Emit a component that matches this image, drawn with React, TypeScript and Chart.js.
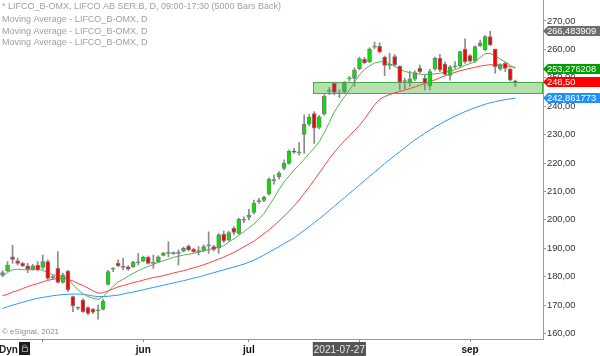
import React, { useEffect, useRef } from 'react';
import { Chart, registerables } from 'chart.js';

Chart.register(...registerables);

// ---- data ----
const dates = [
  '2021-04-21','2021-04-22','2021-04-23','2021-04-26','2021-04-27','2021-04-28','2021-04-29','2021-04-30',
  '2021-05-03','2021-05-04','2021-05-05','2021-05-06','2021-05-07','2021-05-10','2021-05-11','2021-05-12','2021-05-14',
  '2021-05-17','2021-05-18','2021-05-19','2021-05-20','2021-05-21','2021-05-24','2021-05-25','2021-05-26','2021-05-27','2021-05-28','2021-05-31',
  '2021-06-01','2021-06-02','2021-06-03','2021-06-04','2021-06-07','2021-06-08','2021-06-09','2021-06-10','2021-06-11',
  '2021-06-14','2021-06-15','2021-06-16','2021-06-17','2021-06-18','2021-06-21','2021-06-22','2021-06-23','2021-06-24','2021-06-28','2021-06-29','2021-06-30',
  '2021-07-01','2021-07-02','2021-07-05','2021-07-06','2021-07-07','2021-07-08','2021-07-09','2021-07-12','2021-07-13','2021-07-14','2021-07-15','2021-07-16',
  '2021-07-19','2021-07-20','2021-07-21','2021-07-22','2021-07-23','2021-07-26','2021-07-27','2021-07-28','2021-07-29','2021-07-30',
  '2021-08-02','2021-08-03','2021-08-04','2021-08-05','2021-08-06','2021-08-09','2021-08-10','2021-08-11','2021-08-12','2021-08-13',
  '2021-08-16','2021-08-17','2021-08-18','2021-08-19','2021-08-20','2021-08-23','2021-08-24','2021-08-25','2021-08-26','2021-08-27','2021-08-30','2021-08-31',
  '2021-09-01','2021-09-02','2021-09-03','2021-09-06','2021-09-07','2021-09-08','2021-09-09','2021-09-10','2021-09-13','2021-09-14',
  '2021-09-15','2021-09-16','2021-09-17','2021-09-20','2021-09-21',
];

const opens = [
  180.5,182.1,187.0,185.6,184.7,183.8,182.6,184.1,183.3,185.3,
  179.6,182.9,178.0,182.0,173.0,168.9,171.8,169.1,168.5,168.0,
  168.5,177.3,182.6,184.7,183.3,183.5,183.5,184.9,185.5,186.8,
  184.7,185.3,187.5,188.2,188.1,188.2,189.0,190.8,189.7,188.8,
  189.2,190.9,190.6,190.0,194.9,192.9,197.0,195.2,199.9,200.9,
  202.6,206.4,206.8,209.1,213.8,215.2,218.1,219.9,224.2,223.6,
  230.1,233.7,237.4,232.5,237.3,245.2,248.1,244.4,245.0,249.6,
  249.8,253.2,256.5,255.7,260.8,261.1,257.3,254.4,257.5,254.0,
  248.7,248.2,249.5,253.3,249.8,247.2,253.1,256.9,254.8,250.8,
  253.9,254.3,260.1,257.8,255.9,261.3,259.8,264.5,260.1,253.1,
  255.1,253.1,248.6,
];
const highs = [
  182.1,185.3,191.1,186.5,185.0,184.7,184.3,185.3,187.6,185.9,
  180.4,188.8,181.2,182.3,173.2,169.4,172.2,169.5,168.9,170.0,
  172.0,182.2,183.2,185.9,186.5,183.9,185.4,188.2,187.2,187.3,
  187.6,187.4,188.6,192.3,188.7,189.4,190.4,191.2,190.0,190.6,
  191.2,195.8,191.0,195.2,196.1,196.0,197.6,200.6,201.1,203.7,
  207.0,207.6,208.4,214.8,215.8,217.0,221.1,224.6,225.2,227.2,
  236.9,237.1,238.1,236.8,244.1,246.6,248.5,245.8,248.8,250.5,
  253.5,257.3,257.2,260.6,262.6,262.3,257.7,258.7,258.2,254.3,
  249.9,252.3,252.5,254.5,251.0,253.0,257.3,258.3,255.5,254.3,
  255.7,259.4,263.7,258.3,261.3,263.3,264.9,266.4,260.1,255.0,
  255.5,253.5,249.2,
];
const lows = [
  180.0,181.8,184.7,184.1,183.5,181.4,182.3,182.0,182.6,179.0,
  179.0,177.7,177.7,174.7,167.7,168.4,167.4,166.5,167.0,165.0,
  168.3,177.0,181.8,183.5,182.4,182.3,183.2,184.1,185.3,184.4,
  182.9,185.0,187.3,187.0,187.8,184.1,188.7,189.0,188.5,187.6,
  188.8,188.2,189.0,188.2,192.0,192.5,194.7,194.9,199.0,200.0,
  202.1,205.8,206.4,208.7,212.6,214.3,217.6,219.5,223.4,222.8,
  223.4,233.0,226.9,232.0,236.8,244.1,244.0,243.0,244.5,248.8,
  247.0,252.8,254.9,255.4,260.3,258.7,250.8,253.0,254.0,245.8,
  246.0,247.0,249.0,251.6,245.7,245.7,252.6,252.2,250.8,249.2,
  253.3,253.6,255.1,255.5,255.5,261.0,259.5,261.3,251.6,252.6,
  252.2,248.8,246.9,
];
const closes = [
  181.4,184.1,186.1,184.7,183.8,182.6,183.8,182.4,185.3,179.4,
  180.0,178.0,180.6,175.3,169.7,168.9,167.7,167.1,167.5,168.1,
  171.4,181.8,182.7,183.9,183.3,182.6,185.1,185.0,186.8,184.7,
  184.7,187.0,188.2,188.2,188.2,188.2,190.0,189.4,188.8,188.9,
  190.6,191.0,189.6,194.7,192.6,195.5,195.6,200.2,200.0,201.7,
  205.8,206.5,207.9,214.3,213.9,216.4,219.9,224.2,223.8,223.7,
  233.6,236.2,232.3,236.3,243.5,245.3,244.9,244.5,248.3,249.7,
  252.8,256.8,255.2,260.1,261.0,259.1,254.4,254.5,254.5,248.5,
  248.8,249.6,251.8,252.2,248.1,252.2,256.9,252.8,251.2,253.9,
  254.0,259.2,255.7,255.9,261.0,262.3,264.5,261.6,253.9,254.7,
  253.3,249.2,248.5,
];

const maFast = [
  180.1,181.5,182.4,182.6,182.5,182.4,182.5,182.6,182.2,181.5,
  180.7,180.3,180.0,179.3,177.3,175.4,174.0,173.0,172.4,172.0,
  172.9,174.8,176.6,178.1,179.1,180.2,181.2,182.1,182.9,183.6,
  184.3,185.0,185.6,186.2,186.8,187.2,187.6,187.9,188.2,188.6,
  189.1,189.5,189.9,190.4,190.9,192.2,193.3,194.6,195.8,197.2,
  198.5,200.3,202.2,205.0,207.7,210.7,213.3,215.5,217.6,219.3,
  221.3,223.4,225.3,227.5,230.7,234.3,238.0,240.8,243.3,245.6,
  248.5,251.0,253.0,254.2,255.2,255.6,255.7,255.0,254.0,253.0,
  252.3,251.8,251.5,251.3,251.2,251.2,251.4,251.6,252.0,252.4,
  252.8,253.6,254.4,255.0,255.7,257.1,258.5,258.6,257.7,256.6,
  255.6,254.4,253.3,
];
const maMid = [
  173.3,173.8,174.6,175.1,175.8,176.5,177.1,177.6,178.2,178.7,
  179.1,179.3,179.4,179.1,178.5,177.6,176.9,176.0,175.0,174.2,
  174.3,175.0,175.7,176.4,176.9,177.4,177.9,178.3,178.8,179.3,
  179.7,180.0,180.4,180.8,181.3,181.7,182.1,182.6,183.1,183.6,
  184.2,184.8,185.5,186.2,186.9,187.7,188.5,189.5,190.5,191.5,
  192.5,193.8,195.1,196.5,198.0,199.6,201.3,203.0,205.0,207.0,
  209.3,211.6,214.0,216.5,219.0,221.5,223.8,225.9,227.8,229.6,
  231.4,233.3,235.5,238.0,240.5,242.4,243.4,244.1,244.7,245.2,
  245.7,246.2,246.8,247.4,248.0,248.6,249.3,250.0,250.7,251.3,
  251.9,252.5,252.9,253.3,253.7,254.1,254.4,254.6,254.6,254.5,
  254.3,254.0,253.6,
];
const maSlow = [
  168.8,169.4,170.0,170.5,171.0,171.5,172.0,172.4,172.7,173.0,
  173.3,173.5,173.7,173.8,173.9,173.9,173.8,173.5,173.2,173.0,
  173.0,173.1,173.3,173.5,173.9,174.3,174.6,175.0,175.4,175.8,
  176.2,176.6,177.0,177.4,177.8,178.2,178.6,179.0,179.5,179.9,
  180.4,180.9,181.4,181.9,182.4,182.9,183.4,183.9,184.4,185.1,
  185.8,186.7,187.6,188.6,189.6,190.6,191.6,192.6,193.7,195.0,
  196.3,197.6,199.0,200.4,201.8,203.3,204.8,206.3,207.8,209.3,
  210.8,212.3,213.8,215.3,216.8,218.3,219.8,221.2,222.6,224.0,
  225.4,226.8,228.1,229.3,230.5,231.6,232.7,233.7,234.7,235.6,
  236.5,237.3,238.1,238.8,239.5,240.1,240.7,241.2,241.6,242.0,
  242.3,242.6,242.86,
];

const yTicks = [160, 170, 180, 190, 200, 210, 220, 230, 240, 250, 260, 270];
const monthTicks = ['2021-05-03', '2021-06-01', '2021-07-01', '2021-08-02', '2021-09-01'];
const tickLabels: Record<string, string> = {
  '2021-06-01': 'jun',
  '2021-07-01': 'jul',
  '2021-07-27': '2021-07-27',
  '2021-09-01': 'sep',
};
const cursorDate = '2021-07-27';

const bandFrom = 61.8;
const bandLow = 244.42;
const bandHigh = 248.42;

const tagValues = [266.483909, 253.276208, 248.5, 242.861773];
const tagTexts = ['266,483909', '253,276208', '248,50', '242,861773'];
const tagColors = ['#6e6e6e', '#00a000', '#ff0000', '#1e90ff'];

const legendLines = [
  '* LIFCO_B-OMX, LIFCO AB SER.B, D, 09:00-17:30 (5000 Bars Back)',
  'Moving Average - LIFCO_B-OMX, D',
  'Moving Average - LIFCO_B-OMX, D',
  'Moving Average - LIFCO_B-OMX, D',
];
const copyright = '\u00A9 eSignal, 2021';

const FONT = "'Liberation Sans', Arial, sans-serif";

export default function App() {
  const canvasRef = useRef<HTMLCanvasElement | null>(null);

  useEffect(() => {
    const canvas = canvasRef.current;
    if (!canvas) return;

    const wicks = highs.map((h, i) => [lows[i], h]);
    const bodies = opens.map((o, i) => [o, closes[i]]);
    const bodyColors = opens.map((o, i) =>
      closes[i] > o ? '#00e400' : closes[i] < o ? '#ff0000' : '#8a8a8a'
    );

    const bandPlugin = {
      id: 'band',
      beforeDatasetsDraw(chart: any) {
        const { ctx, chartArea, scales } = chart;
        const x0 = scales.x.getPixelForValue(bandFrom);
        const y0 = scales.y.getPixelForValue(bandHigh);
        const y1 = scales.y.getPixelForValue(bandLow);
        ctx.save();
        ctx.fillStyle = 'rgba(118,198,108,0.55)';
        ctx.fillRect(x0, y0, chartArea.right - x0, y1 - y0);
        ctx.strokeStyle = '#45ad45';
        ctx.lineWidth = 1;
        ctx.strokeRect(Math.round(x0) + 0.5, Math.round(y0) + 0.5, chartArea.right - Math.round(x0) - 1, Math.round(y1 - y0));
        ctx.restore();
      },
    };

    const overlayPlugin = {
      id: 'overlay',
      afterDraw(chart: any) {
        const { ctx, chartArea, scales, width } = chart;
        ctx.save();
        // legend text
        ctx.font = `9px ${FONT}`;
        ctx.fillStyle = '#a0a0a0';
        ctx.textAlign = 'left';
        ctx.textBaseline = 'middle';
        const rows = [7, 19.5, 31.5, 43];
        legendLines.forEach((t, i) => ctx.fillText(t, 2, rows[i]));
        // copyright
        ctx.font = `8px ${FONT}`;
        ctx.fillStyle = '#8a8a8a';
        ctx.fillText(copyright, 2, chartArea.bottom - 7);
        // Dyn + lock
        ctx.font = `bold 10px ${FONT}`;
        ctx.fillStyle = '#222';
        ctx.fillText('Dyn', -1, 350);
        ctx.fillStyle = '#1e1e1e';
        ctx.fillRect(19, 342, 11, 13);
        ctx.strokeStyle = '#9a9a9a';
        ctx.lineWidth = 1;
        ctx.beginPath();
        ctx.arc(24.5, 347, 2, Math.PI, 0);
        ctx.stroke();
        ctx.strokeRect(22.5, 347.5, 5, 4);
        // price tags
        ctx.font = `9.3px ${FONT}`;
        const r = chartArea.right;
        tagValues.forEach((v, i) => {
          const y = Math.round(scales.y.getPixelForValue(v));
          ctx.fillStyle = tagColors[i];
          ctx.beginPath();
          ctx.moveTo(r, y);
          ctx.lineTo(r + 5, y - 5);
          ctx.lineTo(width, y - 5);
          ctx.lineTo(width, y + 5);
          ctx.lineTo(r + 5, y + 5);
          ctx.closePath();
          ctx.fill();
          ctx.fillStyle = '#ffffff';
          ctx.fillText(tagTexts[i], r + 4, y + 0.5);
        });
        ctx.restore();
      },
    };

    const chart = new Chart(canvas, {
      type: 'bar',
      data: {
        labels: dates,
        datasets: [
          {
            type: 'bar',
            label: 'body',
            data: bodies as any,
            backgroundColor: bodyColors,
            borderColor: '#7c7c7c',
            borderWidth: 1,
            borderSkipped: false,
            barThickness: 4,
            minBarLength: 1,
            grouped: false,
            order: 0,
          } as any,
          {
            type: 'bar',
            label: 'wick',
            data: wicks as any,
            backgroundColor: '#8a8a8a',
            borderWidth: 0,
            barThickness: 1,
            grouped: false,
            order: 1,
          } as any,
          {
            type: 'line',
            label: 'MA fast',
            data: maFast,
            borderColor: '#4cb84c',
            borderWidth: 1,
            pointRadius: 0,
            tension: 0,
            order: 2,
          } as any,
          {
            type: 'line',
            label: 'MA mid',
            data: maMid,
            borderColor: '#ff4040',
            borderWidth: 1,
            pointRadius: 0,
            tension: 0,
            order: 3,
          } as any,
          {
            type: 'line',
            label: 'MA slow',
            data: maSlow,
            borderColor: '#2d96ff',
            borderWidth: 1,
            pointRadius: 0,
            tension: 0,
            order: 4,
          } as any,
        ],
      },
      options: {
        responsive: false,
        animation: false,
        devicePixelRatio: 1,
        events: [],
        layout: { padding: 0 },
        plugins: {
          legend: { display: false },
          tooltip: { enabled: false },
        },
        scales: {
          x: {
            type: 'category',
            offset: true,
            grid: {
              display: true,
              drawOnChartArea: false,
              drawTicks: true,
              tickLength: 3,
              offset: false,
              color: (c: any) => (monthTicks.includes(dates[c.index]) ? '#8a8a8a' : 'rgba(0,0,0,0)'),
            },
            border: { display: true, color: '#9a9a9a', width: 1 },
            ticks: {
              autoSkip: false,
              maxRotation: 0,
              minRotation: 0,
              padding: 2,
              callback: (_v: any, i: number) => tickLabels[dates[i]] ?? '',
              color: (c: any) => (dates[c.index] === cursorDate ? '#e8e8e8' : '#111111'),
              font: (c: any) =>
                dates[c.index] === cursorDate
                  ? { family: FONT, size: 10, weight: 'normal' }
                  : { family: FONT, size: 10, weight: 'bold' },
              showLabelBackdrop: (c: any) => dates[c.index] === cursorDate,
              backdropColor: '#555555',
              backdropPadding: { top: 2, bottom: 1, left: 1, right: 1 },
            } as any,
            afterFit: (s: any) => {
              s.height = 17;
              s.paddingLeft = 0;
              s.paddingRight = 0;
            },
          },
          y: {
            type: 'linear',
            position: 'right',
            min: 158.06,
            max: 277.39,
            grid: {
              display: true,
              drawOnChartArea: false,
              drawTicks: true,
              tickLength: 3,
              color: '#9a9a9a',
            },
            border: { display: true, color: '#9a9a9a', width: 1 },
            afterBuildTicks: (s: any) => {
              s.ticks = yTicks.map((v) => ({ value: v }));
            },
            ticks: {
              padding: 1,
              color: '#333333',
              font: { family: FONT, size: 9.3 },
              callback: (v: any) => Number(v).toFixed(2).replace('.', ','),
            },
            afterFit: (s: any) => {
              s.width = 57;
              s.paddingTop = 0;
              s.paddingBottom = 0;
            },
          },
        },
      } as any,
      plugins: [bandPlugin, overlayPlugin],
    });

    return () => chart.destroy();
  }, []);

  return (
    <div style={{ position: 'absolute', left: 0, top: 0, width: 600, height: 356, background: '#fff' }}>
      <canvas ref={canvasRef} width={600} height={356} style={{ display: 'block' }} />
    </div>
  );
}
